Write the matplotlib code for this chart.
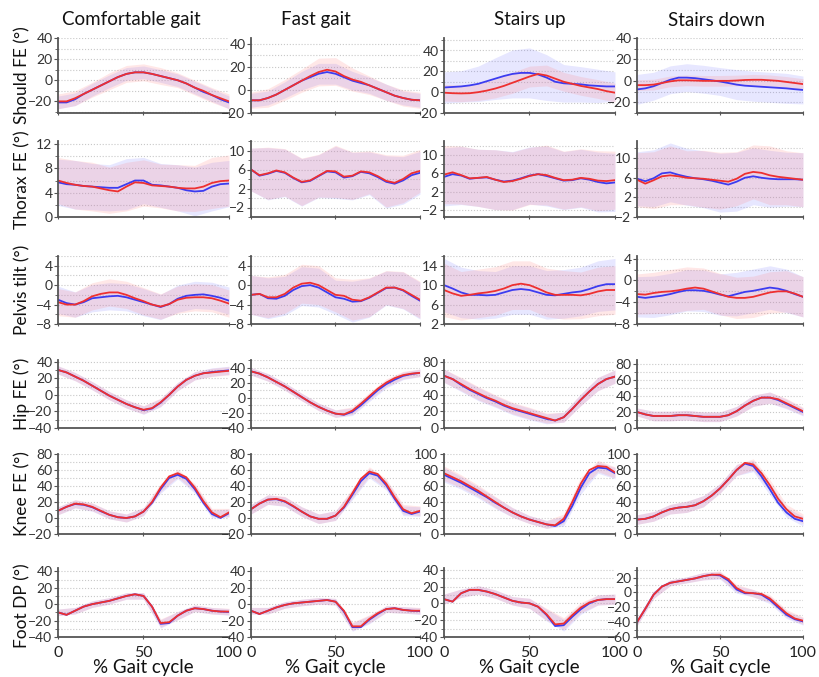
import numpy as np
import matplotlib
matplotlib.use('Agg')
import matplotlib.pyplot as plt
from matplotlib.ticker import MultipleLocator

plt.rcParams['font.family'] = ['Lato', 'DejaVu Sans']

# % gait cycle sample points (means every 5 %, band widths every 10 %)
x = list(range(0, 101, 5))
xb = list(range(0, 101, 10))

col_titles = ['Comfortable gait', 'Fast gait', 'Stairs up', 'Stairs down']
row_labels = ['Should FE (°)', 'Thorax FE (°)', 'Pelvis tilt (°)', 'Hip FE (°)', 'Knee FE (°)', 'Foot DP (°)']
xtick_vals = [0, 50, 100]

# ---- Shoulder flexion/extension ----
should_comf_r = [-20, -20, -17, -13, -9, -5, -1, 3, 6, 7.5, 7.5, 6, 4, 2, 0, -3, -7, -10, -14, -17, -20]
should_comf_b = [-21, -21, -18, -13, -9, -5, -1, 3, 6, 7.5, 7.5, 6, 4, 2, 0, -3, -7, -11, -14, -18, -21]
should_comf_sd_r = [7, 7, 7, 8, 8, 8, 8, 7, 7, 7, 7]
should_comf_sd_b = [6, 6, 6, 6, 6, 6, 6, 6, 6, 6, 6]
should_fast_r = [-9, -9, -7, -4, 0, 4, 8, 12, 15.5, 17.5, 16, 12, 9, 7, 4, 1, -2, -5, -7, -8.5, -9]
should_fast_b = [-9, -9, -7, -4, 0, 4, 8, 11, 14, 15.5, 14, 11, 8, 6, 4, 1, -2, -5, -7, -8.5, -9]
should_fast_sd_r = [7, 8, 9, 10, 12, 12, 10, 8, 7, 7, 7]
should_fast_sd_b = [6, 6, 7, 8, 9, 9, 8, 7, 7, 6, 6]
should_up_r = [-0.5, -1, -1.2, -1, 0, 1.5, 3.5, 6, 9, 12, 15, 17.5, 16, 13, 10, 8, 6, 4.5, 3, 1, -0.5]
should_up_b = [4.5, 5, 5.5, 6.5, 8, 10.5, 13, 15.5, 17.5, 18.5, 18.5, 17, 14, 10, 8.5, 8, 7.5, 6.5, 6, 5.5, 5.5]
should_up_sd_r = [8, 8, 8, 9, 10, 10, 10, 9, 9, 9, 9]
should_up_sd_b = [15, 15, 17, 20, 23, 24, 22, 18, 17, 16, 14]
should_down_r = [-4, -4, -3.5, -2, -0.5, 0.5, 0.5, 0.3, 0, 0, 0, 0, 0.3, 0.8, 1, 1, 0.5, 0, -1, -2, -3]
should_down_b = [-8, -7, -5, -2, 1, 3, 3, 2.5, 1.5, 0.5, -0.6, -2, -3.5, -4.5, -5, -5.5, -6, -6.5, -7, -7.8, -8.5]
should_down_sd_r = [5, 5, 5, 5, 5, 5, 5, 5, 5, 5, 5]
should_down_sd_b = [14, 13, 13, 13, 13, 13, 14, 14, 14, 14, 13]

# ---- Thorax flexion/extension ----
thorax_comf_r = [6.0, 5.6, 5.3, 5.1, 5.0, 4.7, 4.4, 4.2, 5.0, 5.7, 5.6, 5.2, 5.1, 5.0, 4.8, 4.7, 4.7, 5.0, 5.6, 5.9, 6.0]
thorax_comf_b = [5.7, 5.4, 5.3, 5.1, 5.0, 4.9, 4.8, 4.8, 5.4, 6.0, 6.0, 5.3, 5.2, 5.0, 4.8, 4.4, 4.2, 4.3, 5.0, 5.4, 5.5]
thorax_comf_sd_r = [3.8, 4.0, 4.0, 3.8, 4.0, 3.8, 3.6, 3.8, 3.8, 4.2, 4.2]
thorax_comf_sd_b = [3.8, 4.0, 3.8, 3.8, 4.2, 3.8, 3.6, 3.8, 4.0, 4.0, 3.8]
thorax_fast_r = [6.0, 4.8, 5.2, 5.8, 5.4, 4.3, 3.4, 3.7, 4.7, 5.7, 5.6, 4.5, 4.7, 5.6, 5.4, 4.6, 3.6, 3.2, 4.0, 5.2, 5.7]
thorax_fast_b = [6.0, 4.7, 5.1, 5.7, 5.3, 4.2, 3.3, 3.6, 4.6, 5.6, 5.4, 4.3, 4.6, 5.5, 5.2, 4.4, 3.4, 3.0, 3.7, 4.8, 5.3]
thorax_fast_sd_r = [4.5, 5.5, 5.0, 5.0, 4.5, 5.5, 5.0, 4.5, 5.5, 5.0, 4.5]
thorax_fast_sd_b = [4.5, 5.5, 5.0, 5.0, 4.5, 5.5, 5.0, 4.5, 5.5, 5.0, 4.5]
thorax_up_r = [5.7, 6.2, 5.6, 4.9, 5.0, 5.2, 4.6, 4.1, 4.3, 4.8, 5.4, 5.8, 5.6, 5.0, 4.5, 4.6, 5.0, 4.8, 4.4, 4.3, 4.5]
thorax_up_b = [5.2, 5.8, 5.5, 4.8, 5.0, 5.1, 4.6, 4.2, 4.4, 4.9, 5.5, 5.8, 5.4, 4.9, 4.4, 4.5, 4.9, 4.6, 4.1, 3.8, 4.0]
thorax_up_sd_r = [6.3, 6.3, 6.2, 6.5, 6.3, 6.2, 6.5, 6.3, 6.3, 6.5, 6.3]
thorax_up_sd_b = [6.3, 6.3, 6.2, 6.5, 6.3, 6.2, 6.5, 6.3, 6.3, 6.5, 6.3]
thorax_down_r = [5.6, 4.8, 5.5, 6.3, 6.5, 6.3, 6.0, 5.9, 5.8, 5.6, 5.4, 5.2, 5.8, 6.8, 7.2, 7.0, 6.5, 6.2, 6.0, 5.8, 5.6]
thorax_down_b = [5.8, 5.3, 5.9, 6.9, 7.1, 6.6, 6.2, 5.9, 5.7, 5.4, 5.0, 4.6, 5.2, 6.0, 6.3, 6.0, 5.8, 5.7, 5.7, 5.7, 5.6]
thorax_down_sd_r = [5.5, 5.8, 6.0, 5.5, 5.8, 5.8, 5.5, 5.5, 6.0, 5.5, 5.5]
thorax_down_sd_b = [5.5, 5.8, 6.0, 5.8, 5.8, 6.0, 6.0, 5.8, 5.8, 5.5, 5.5]

# ---- Pelvis tilt ----
pelvis_comf_r = [-3.5, -4.0, -4.0, -3.3, -2.3, -1.8, -1.5, -1.5, -2.0, -2.7, -3.3, -4.0, -4.4, -3.9, -3.0, -2.6, -2.5, -2.5, -2.7, -3.2, -3.8]
pelvis_comf_b = [-3.0, -3.7, -4.0, -3.5, -2.7, -2.5, -2.3, -2.2, -2.5, -3.0, -3.5, -4.0, -4.5, -3.9, -2.8, -2.2, -2.0, -1.9, -2.2, -2.6, -3.2]
pelvis_comf_sd_r = [2.8, 2.6, 2.8, 2.8, 2.8, 2.8, 2.6, 2.8, 2.8, 2.8, 2.8]
pelvis_comf_sd_b = [2.8, 2.6, 2.8, 2.8, 2.8, 2.8, 2.6, 2.8, 2.8, 2.8, 2.8]
pelvis_fast_r = [-2.0, -1.8, -2.5, -2.5, -1.8, -0.5, 0.3, 0.5, 0.0, -1.0, -2.0, -2.2, -3.0, -3.2, -2.5, -1.5, -0.5, -0.5, -1.0, -2.0, -3.0]
pelvis_fast_b = [-2.0, -1.8, -2.7, -2.8, -2.2, -1.0, -0.2, 0.0, -0.5, -1.5, -2.5, -2.8, -3.4, -3.3, -2.6, -1.6, -0.6, -0.5, -1.1, -2.2, -3.2]
pelvis_fast_sd_r = [4.0, 4.2, 4.0, 4.0, 4.0, 3.5, 4.2, 4.0, 3.5, 3.8, 3.8]
pelvis_fast_sd_b = [4.0, 4.2, 4.0, 4.0, 4.0, 3.5, 4.2, 4.0, 3.5, 3.8, 3.8]
pelvis_up_r = [9.0, 8.3, 7.8, 8.0, 8.3, 8.5, 8.8, 9.3, 10.0, 10.3, 10.0, 9.3, 8.5, 8.0, 8.0, 8.0, 7.9, 8.2, 8.7, 9.0, 9.0]
pelvis_up_b = [10.0, 9.3, 8.5, 8.0, 8.0, 7.9, 8.0, 8.5, 9.0, 9.2, 9.0, 8.5, 8.0, 7.9, 8.2, 8.5, 8.7, 9.2, 9.8, 10.2, 10.2]
pelvis_up_sd_r = [5.5, 5.0, 5.0, 5.0, 5.0, 5.0, 5.0, 5.0, 4.8, 5.0, 5.0]
pelvis_up_sd_b = [5.5, 5.2, 5.0, 4.8, 5.0, 5.0, 5.0, 5.0, 5.0, 5.2, 5.3]
pelvis_down_r = [-2.5, -2.6, -2.3, -2.1, -2.0, -1.8, -1.5, -1.3, -1.5, -2.0, -2.5, -3.0, -3.2, -3.2, -3.0, -2.6, -2.2, -2.0, -2.0, -2.4, -3.0]
pelvis_down_b = [-3.0, -3.2, -3.0, -2.8, -2.5, -2.1, -1.8, -1.8, -1.9, -2.2, -2.6, -2.9, -2.5, -2.1, -1.9, -1.6, -1.3, -1.5, -1.9, -2.5, -3.0]
pelvis_down_sd_r = [3.7, 3.8, 4.0, 4.0, 3.8, 3.8, 3.8, 3.8, 3.8, 3.8, 3.7]
pelvis_down_sd_b = [3.7, 3.8, 3.8, 3.8, 3.8, 3.8, 4.0, 4.0, 4.0, 4.0, 3.7]

# ---- Hip flexion/extension ----
hip_comf_r = [30, 27, 22, 17, 11, 5, -1, -6, -11, -15, -18, -16, -9, 0, 10, 18, 23, 26, 27, 28, 29]
hip_comf_b = [30, 27, 22, 17, 11, 5, -1, -6, -11, -15, -18.5, -16.5, -9.5, 0, 10, 18, 23, 26, 27.5, 28.5, 29.5]
hip_comf_sd_r = [5, 5, 5, 5, 5, 5, 5, 5, 5, 5, 5]
hip_comf_sd_b = [5, 5, 5, 5, 5, 5, 5, 5, 5, 5, 5]
hip_fast_r = [35, 32, 27, 21, 15, 8, 1, -6, -12, -17, -21, -22, -17, -8, 2, 12, 20, 26, 30, 32, 33]
hip_fast_b = [35, 32, 27, 21, 15, 8, 1, -6, -12, -17, -21, -22.5, -18.5, -10, 0, 10, 18, 24, 29, 31.5, 33]
hip_fast_sd_r = [5, 5, 5, 5, 5, 5, 5, 5, 5, 5, 5]
hip_fast_sd_b = [5, 5, 5, 5, 5, 5, 5, 5, 5, 5, 5]
hip_up_r = [63, 59, 53, 47, 42, 37, 33, 28, 24, 21, 18, 15, 12, 9, 13, 23, 34, 44, 53, 59, 62]
hip_up_b = [63, 59, 52, 46, 41, 36, 32, 27, 23, 20, 17, 14, 11, 9, 13, 23, 34, 44, 53, 59, 62]
hip_up_sd_r = [8, 8, 8, 7, 7, 7, 6, 6, 7, 8, 8]
hip_up_sd_b = [8, 8, 8, 7, 7, 7, 6, 6, 7, 8, 8]
hip_down_r = [20, 17, 15, 15, 15, 16, 16, 15, 14, 14, 14, 16, 21, 28, 34, 38, 38, 36, 31, 26, 21]
hip_down_b = [20, 17, 15, 15, 15, 16, 16, 15, 14, 14, 14, 16, 21, 28, 34, 38, 38, 35, 30, 25, 20]
hip_down_sd_r = [5, 6, 6, 6, 6, 6, 6, 7, 7, 6, 5]
hip_down_sd_b = [5, 6, 6, 6, 6, 6, 6, 7, 7, 6, 5]

# ---- Knee flexion/extension ----
knee_comf_r = [9, 14, 18, 17, 14, 9, 4, 1, 0, 2, 8, 20, 38, 52, 56, 51, 38, 21, 7, 1, 7]
knee_comf_b = [9, 14, 17.5, 16.5, 13.5, 8.5, 4, 1, 0, 2, 8, 19, 36, 50, 54, 49, 36, 19, 5, 0, 6]
knee_comf_sd_r = [5, 5, 5, 5, 5, 5, 5, 5, 5, 5, 5]
knee_comf_sd_b = [5, 5, 5, 5, 5, 5, 5, 5, 5, 5, 5]
knee_fast_r = [11, 18, 23, 24, 21, 15, 8, 2, -1, -1, 3, 14, 31, 49, 58, 55, 43, 26, 11, 6, 9]
knee_fast_b = [11, 18, 23, 23.5, 20.5, 14.5, 8, 2, -1, -1, 3, 13, 29, 46, 56, 53, 41, 24, 9, 5, 8]
knee_fast_sd_r = [6, 6, 6, 6, 6, 6, 6, 6, 6, 6, 6]
knee_fast_sd_b = [6, 6, 6, 6, 6, 6, 6, 6, 6, 6, 6]
knee_up_r = [76, 71, 66, 60, 54, 47, 40, 33, 27, 22, 18, 15, 12, 11, 19, 40, 63, 80, 85, 84, 77]
knee_up_b = [74, 69, 64, 58, 52, 46, 39, 33, 27, 22, 18, 15, 12, 10, 16, 35, 58, 76, 83, 82, 76]
knee_up_sd_r = [9, 8, 7, 7, 6, 5, 5, 6, 8, 7, 7]
knee_up_sd_b = [9, 8, 7, 7, 6, 5, 5, 6, 8, 7, 7]
knee_down_r = [18, 19, 22, 27, 31, 33, 34, 36, 41, 48, 57, 68, 80, 89, 87, 76, 61, 44, 31, 22, 19]
knee_down_b = [18, 19, 22, 27, 31, 33, 34, 36, 41, 48, 57, 68, 80, 88, 85, 72, 56, 39, 27, 19, 16]
knee_down_sd_r = [6, 6, 6, 7, 7, 6, 7, 7, 7, 6, 6]
knee_down_sd_b = [6, 6, 6, 7, 7, 6, 7, 7, 7, 6, 6]

# ---- Foot dorsi/plantar flexion ----
foot_comf_r = [-10, -13, -8, -3, 0, 2, 4, 7, 10, 12, 10, -3, -23, -22, -14, -8, -5, -6, -8, -9, -9]
foot_comf_b = [-10, -13, -8, -3, 0, 2, 4, 7, 10, 12, 10, -3, -24, -23, -14, -8, -5, -6, -8, -9, -9.5]
foot_comf_sd_r = [4, 4, 4, 4, 4, 4, 5, 5, 4, 4, 4]
foot_comf_sd_b = [4, 4, 4, 4, 4, 4, 5, 5, 4, 4, 4]
foot_fast_r = [-8, -12, -8, -4, -1, 1, 2, 3, 4, 5, 3, -8, -27, -27, -18, -11, -6, -5, -7, -8, -8]
foot_fast_b = [-8, -12, -8, -4, -1, 1, 2, 3, 4, 5, 3, -9, -28, -28, -19, -12, -6, -5, -7, -8, -8.5]
foot_fast_sd_r = [4, 4, 4, 4, 4, 4, 5, 5, 4, 4, 4]
foot_fast_sd_b = [4, 4, 4, 4, 4, 4, 5, 5, 4, 4, 4]
foot_up_r = [5, 2, 12, 16, 16, 14, 11, 7, 3, 1, 0, -4, -13, -25, -24, -14, -5, 1, 4, 5, 5]
foot_up_b = [5, 2, 12, 16, 16, 14, 11, 7, 3, 1, 0, -4, -14, -27, -26, -16, -7, 0, 4, 5, 5]
foot_up_sd_r = [6, 5, 5, 5, 5, 6, 7, 7, 6, 6, 6]
foot_up_sd_b = [6, 5, 5, 5, 5, 6, 7, 7, 6, 6, 6]
foot_down_r = [-40, -22, -3, 8, 13, 15, 17, 19, 22, 24, 24, 18, 6, 0, -1, -2, -8, -18, -28, -35, -38]
foot_down_b = [-40, -22, -3, 8, 13, 15, 17, 19, 22, 24, 23, 16, 4, -1, -1, -3, -10, -20, -30, -36, -39]
foot_down_sd_r = [5, 5, 4, 4, 5, 5, 5, 5, 5, 5, 5]
foot_down_sd_b = [5, 5, 4, 4, 5, 5, 5, 5, 5, 5, 5]

# y limits and tick labels for each row / column
ylims = [
    [(-31, 40), (-20, 45), (-20, 52), (-30, 40)],
    [(0, 12.5), (-4, 12), (-3.5, 13), (-2, 13.5)],
    [(-8, 6), (-8, 6), (2, 16), (-8, 4.5)],
    [(-40, 42), (-40, 50), (0, 82), (0, 85)],
    [(-20, 80), (-20, 80), (0, 100), (0, 100)],
    [(-40, 44), (-40, 44), (-40, 42), (-60, 33)],
]
yticks = [
    [[-20, 0, 20, 40]] * 4,
    [[0, 4, 8, 12], [-2, 2, 6, 10], [-2, 2, 6, 10], [-2, 2, 6, 10]],
    [[-8, -4, 0, 4], [-8, -4, 0, 4], [2, 6, 10, 14], [-8, -4, 0, 4]],
    [[-40, -20, 0, 20, 40], [-40, -20, 0, 20, 40], [0, 20, 40, 60, 80], [0, 20, 40, 60, 80]],
    [[-20, 0, 20, 40, 60, 80], [-20, 0, 20, 40, 60, 80], [0, 20, 40, 60, 80, 100], [0, 20, 40, 60, 80, 100]],
    [[-40, -20, 0, 20, 40], [-40, -20, 0, 20, 40], [-40, -20, 0, 20, 40], [-60, -40, -20, 0, 20]],
]

data = [
    [(should_comf_r, should_comf_b, should_comf_sd_r, should_comf_sd_b),
     (should_fast_r, should_fast_b, should_fast_sd_r, should_fast_sd_b),
     (should_up_r, should_up_b, should_up_sd_r, should_up_sd_b),
     (should_down_r, should_down_b, should_down_sd_r, should_down_sd_b)],
    [(thorax_comf_r, thorax_comf_b, thorax_comf_sd_r, thorax_comf_sd_b),
     (thorax_fast_r, thorax_fast_b, thorax_fast_sd_r, thorax_fast_sd_b),
     (thorax_up_r, thorax_up_b, thorax_up_sd_r, thorax_up_sd_b),
     (thorax_down_r, thorax_down_b, thorax_down_sd_r, thorax_down_sd_b)],
    [(pelvis_comf_r, pelvis_comf_b, pelvis_comf_sd_r, pelvis_comf_sd_b),
     (pelvis_fast_r, pelvis_fast_b, pelvis_fast_sd_r, pelvis_fast_sd_b),
     (pelvis_up_r, pelvis_up_b, pelvis_up_sd_r, pelvis_up_sd_b),
     (pelvis_down_r, pelvis_down_b, pelvis_down_sd_r, pelvis_down_sd_b)],
    [(hip_comf_r, hip_comf_b, hip_comf_sd_r, hip_comf_sd_b),
     (hip_fast_r, hip_fast_b, hip_fast_sd_r, hip_fast_sd_b),
     (hip_up_r, hip_up_b, hip_up_sd_r, hip_up_sd_b),
     (hip_down_r, hip_down_b, hip_down_sd_r, hip_down_sd_b)],
    [(knee_comf_r, knee_comf_b, knee_comf_sd_r, knee_comf_sd_b),
     (knee_fast_r, knee_fast_b, knee_fast_sd_r, knee_fast_sd_b),
     (knee_up_r, knee_up_b, knee_up_sd_r, knee_up_sd_b),
     (knee_down_r, knee_down_b, knee_down_sd_r, knee_down_sd_b)],
    [(foot_comf_r, foot_comf_b, foot_comf_sd_r, foot_comf_sd_b),
     (foot_fast_r, foot_fast_b, foot_fast_sd_r, foot_fast_sd_b),
     (foot_up_r, foot_up_b, foot_up_sd_r, foot_up_sd_b),
     (foot_down_r, foot_down_b, foot_down_sd_r, foot_down_sd_b)],
]

RED = '#ee3030'
BLUE = '#3c3cf0'
W, H = 820, 677

fig = plt.figure(figsize=(W / 100, H / 100), dpi=100)

# panel boxes in pixels
col_px = [(58, 229), (251, 420), (444, 615), (637, 803)]
row_px = [(38, 113), (141, 217), (256, 324), (360, 428), (454, 534), (568, 637)]

for i in range(6):
    for j in range(4):
        x0, x1 = col_px[j]
        t, b = row_px[i]
        ax = fig.add_axes([x0 / W, 1 - b / H, (x1 - x0) / W, (b - t) / H])
        red, blue, sdr, sdb = data[i][j]
        red = np.array(red)
        blue = np.array(blue)
        sdr = np.array(sdr)
        sdb = np.array(sdb)
        ax.fill_between(xb, blue[::2] - sdb, blue[::2] + sdb, color='#8080ff', alpha=0.19, lw=0)
        ax.fill_between(xb, red[::2] - sdr, red[::2] + sdr, color='#ff8080', alpha=0.19, lw=0)
        ax.plot(x, blue, color=BLUE, lw=1.3)
        ax.plot(x, red, color=RED, lw=1.3)
        ax.set_xlim(0, 100)
        ax.set_ylim(*ylims[i][j])
        tk = yticks[i][j]
        ax.set_yticks(tk)
        ax.yaxis.set_minor_locator(MultipleLocator((tk[1] - tk[0]) / 2))
        ax.set_xticks(xtick_vals)
        ax.grid(True, axis='y', which='both', color='#c8c8c8', ls=':', lw=0.8)
        ax.set_axisbelow(True)
        for s in ['top', 'right']:
            ax.spines[s].set_visible(False)
        for s in ['left', 'bottom']:
            ax.spines[s].set_color('#555555')
            ax.spines[s].set_linewidth(1.3)
        ax.tick_params(axis='y', which='major', labelsize=10, labelcolor='#333333',
                       color='#555555', length=3, pad=1)
        ax.tick_params(axis='y', which='minor', color='#555555', length=2)
        ax.tick_params(axis='x', color='#555555', length=3, direction='inout',
                       labelsize=11.5, labelcolor='#222222', pad=5)
        if i < 5:
            ax.set_xticklabels([])
        else:
            ax.set_xlabel('% Gait cycle', fontsize=13.5, color='#111111', labelpad=-1)

title_x = [131, 316, 530, 717]
for j, t in enumerate(col_titles):
    fig.text(title_x[j] / W, 1 - 20 / H, t, ha='center', va='center', fontsize=13.5, color='#111111')

label_y = [75, 180, 290, 394, 494, 606]
for i, t in enumerate(row_labels):
    fig.text(22 / W, 1 - label_y[i] / H, t, ha='center', va='center', rotation=90,
             fontsize=12.5, color='#111111')

fig.savefig('out.png', dpi=100, facecolor='white')
